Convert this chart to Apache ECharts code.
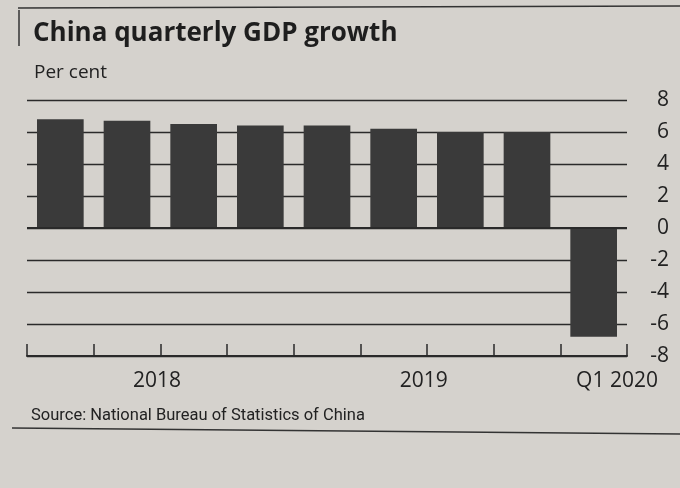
<!DOCTYPE html>
<html><head><meta charset="utf-8">
<script src="https://cdn.jsdelivr.net/npm/echarts@6/dist/echarts.min.js"></script>
<style>html,body{margin:0;padding:0;background:#d5d2cd}#c{width:680px;height:488px}</style>
</head><body><div id="c"></div>
<script>
const quarters = ['Q1 2018','Q2 2018','Q3 2018','Q4 2018','Q1 2019','Q2 2019','Q3 2019','Q4 2019','Q1 2020'];
const growth = [6.8, 6.7, 6.5, 6.4, 6.4, 6.2, 6.0, 6.0, -6.8];
const yTicks = [-8, -6, -4, -2, 0, 2, 4, 6, 8];
const periodLabels = ['2018', '2019', 'Q1 2020'];
const periodPositions = [1.95, 5.95, 8.85];

const chart = echarts.init(document.getElementById('c'), null, {renderer:'canvas'});
const ink = '#2a2a2a';
chart.setOption({
  backgroundColor: '#d5d2cd',
  animation: false,
  title: [
    {text: 'China quarterly GDP growth', left: 28, top: 16,
     textStyle: {fontFamily: 'Open Sans', fontWeight: 'bold', fontSize: 26, color: '#1e1e1e'}},
    {text: 'Per cent', left: 29, top: 58,
     textStyle: {fontFamily: 'Open Sans', fontWeight: 'normal', fontSize: 19, color: '#222'}},
    {text: 'Source: National Bureau of Statistics of China', left: 26, top: 402,
     textStyle: {fontFamily: 'Roboto', fontWeight: 'normal', fontSize: 16.5, color: '#222'}}
  ],
  graphic: [
    {type: 'line', shape: {x1: 18, y1: 8, x2: 680, y2: 6}, style: {stroke: '#333', lineWidth: 1.5}},
    {type: 'line', shape: {x1: 19, y1: 10, x2: 19, y2: 46}, style: {stroke: '#333', lineWidth: 1.5}},
    {type: 'line', shape: {x1: 12, y1: 428, x2: 680, y2: 434}, style: {stroke: '#333', lineWidth: 1.5}}
  ],
  grid: {left: 27, right: 53, top: 100, bottom: 132},
  xAxis: [
    {type: 'category', data: quarters, boundaryGap: true, position: 'bottom',
     axisLine: {onZero: false, lineStyle: {color: ink, width: 2}},
     axisTick: {show: true, inside: true, length: 12, alignWithLabel: false, lineStyle: {color: ink, width: 1.5}},
     axisLabel: {show: false}, splitLine: {show: false}},
    {type: 'value', min: 0, max: 9, position: 'bottom',
     axisLine: {show: false}, axisTick: {show: false}, splitLine: {show: false},
     axisLabel: {show: true, customValues: periodPositions, margin: 15,
       fontFamily: 'Open Sans', fontSize: 21, color: '#222',
       formatter: function (v) { const i = periodPositions.indexOf(v); return i >= 0 ? periodLabels[i] : ''; }}}
  ],
  yAxis: {
    type: 'value', position: 'right', min: yTicks[0], max: yTicks[yTicks.length - 1], interval: 2,
    axisLine: {show: false}, axisTick: {show: false},
    axisLabel: {align: 'right', margin: 42, fontFamily: 'Open Sans', fontSize: 21, color: '#222'},
    splitLine: {lineStyle: {color: ink, width: 1.3}}
  },
  series: [{
    type: 'bar', data: growth, xAxisIndex: 0, barCategoryGap: '30%',
    itemStyle: {color: '#3a3a3a'},
    markLine: {symbol: 'none', silent: true, label: {show: false},
      lineStyle: {color: ink, width: 2, type: 'solid'}, data: [{yAxis: 0}]}
  }]
});
</script></body></html>
